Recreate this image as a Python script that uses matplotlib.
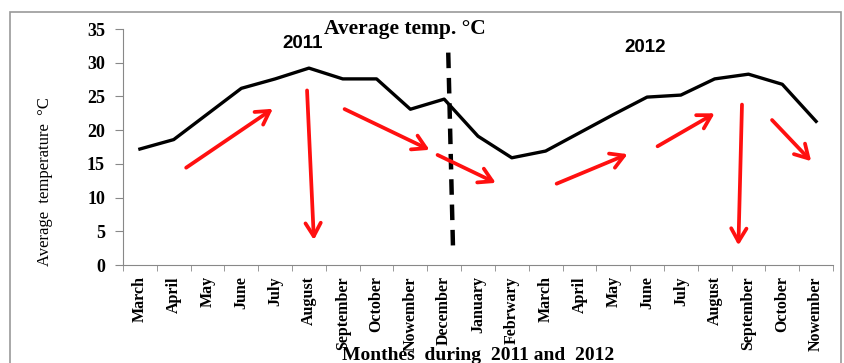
import matplotlib
matplotlib.use('Agg')
import matplotlib.pyplot as plt
from matplotlib.patches import Rectangle

# Monthly average temperature, March 2011 - November 2012
months = ['March', 'April', 'May', 'June', 'July', 'August', 'September',
          'October', 'Nowember', 'December', 'January', 'Febrwary',
          'March', 'April', 'May', 'June', 'July', 'August', 'September',
          'October', 'Nowember']
avg_temp = [17.2, 18.6, 22.4, 26.2, 27.6, 29.2, 27.6, 27.6, 23.1, 24.6,
            19.1, 15.9, 16.9, 19.6, 22.3, 24.9, 25.2, 27.6, 28.3, 26.8, 21.3]

# red trend arrows (start, end) in data coords
arrows = [((1.30, 14.2), (4.00, 23.4)),
          ((4.94, 26.3), (5.15, 3.3)),
          ((5.98, 23.3), (8.64, 16.9)),
          ((8.73, 16.5), (10.60, 12.0)),
          ((12.25, 11.9), (14.50, 16.6)),
          ((15.24, 17.4), (17.07, 22.7)),
          ((17.81, 24.2), (17.70, 2.5)),
          ((18.64, 21.8), (19.91, 15.1))]

serif = ['Liberation Serif', 'DejaVu Serif']
sans = ['Liberation Sans', 'DejaVu Sans']

fig = plt.figure(figsize=(8.44, 3.63), dpi=100)
ax = fig.add_axes([123 / 844, 1 - 265 / 363, 710 / 844, 236 / 363])

x = list(range(len(months)))
ax.plot(x, avg_temp, color='black', lw=2.4, solid_joinstyle='round')

# year separator
ax.plot([9.12, 9.26], [31.5, 2.7], color='black', lw=3.2,
        linestyle=(0, (3.5, 2.2)), clip_on=False)

for start, end in arrows:
    ax.annotate('', xy=end, xytext=start,
                arrowprops=dict(arrowstyle='->,head_length=0.95,head_width=0.55',
                                color='#ff1010', lw=2.7))

ax.set_xlim(-0.5, len(months) - 0.5)
ax.set_ylim(0, 35)
ax.set_yticks(range(0, 36, 5))
ax.set_xticks(x)
ax.set_xticklabels(months, rotation=90, fontfamily=serif,
                   fontweight='bold', fontsize=11.5)
ax.set_xticks([i - 0.5 for i in range(len(months) + 1)], minor=True)
ax.tick_params(axis='x', which='major', length=0, pad=8)
ax.tick_params(axis='x', which='minor', length=4, color='#888888')
ax.tick_params(axis='y', length=6, color='#888888', pad=7)
for lab in ax.get_yticklabels():
    lab.set_fontfamily(serif)
    lab.set_fontweight('bold')
    lab.set_fontsize(13)

for side in ['top', 'right']:
    ax.spines[side].set_visible(False)
for side in ['left', 'bottom']:
    ax.spines[side].set_color('#888888')

fig.text(405 / 844, 1 - 34 / 363, 'Average temp. °C',
         ha='center', va='baseline', fontfamily=serif, fontweight='bold',
         fontsize=15.5)
fig.text(303 / 844, 1 - 48 / 363, '2011', ha='center', va='baseline',
         fontfamily=sans, fontweight='bold', fontsize=13.5)
fig.text(645 / 844, 1 - 52 / 363, '2012', ha='center', va='baseline',
         fontfamily=sans, fontweight='bold', fontsize=13.5)
fig.text(45 / 844, 1 - 182 / 363, 'Average  temperature  °C',
         rotation=90, ha='center', va='center', fontfamily=serif, fontsize=12)
fig.text(478 / 844, 1 - 360 / 363, 'Monthes  during  2011 and  2012',
         ha='center', va='baseline', fontfamily=serif, fontweight='bold',
         fontsize=14)

fig.patches.append(Rectangle((10 / 844, -0.05), 831 / 844, 1.05 - 12 / 363,
                             transform=fig.transFigure, fill=False,
                             edgecolor='#999999', lw=1.2))

fig.savefig('out.png', dpi=100)
